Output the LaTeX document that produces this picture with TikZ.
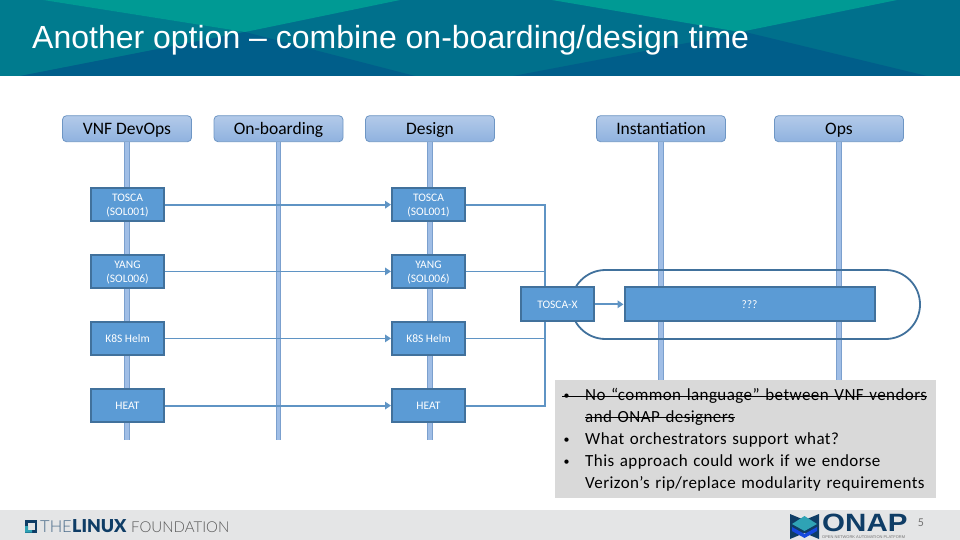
\documentclass[tikz,border=0pt]{standalone}
\usepackage{fontspec}
\usepackage{xcolor}
\usepackage{tikz}
\usetikzlibrary{arrows.meta,positioning,shapes.misc,calc}
\setmainfont{Carlito}
\newfontfamily\titlefont{Liberation Sans}
\newfontfamily\logofont{Lato Light}
\newfontfamily\logobold{Lato Black}
\newfontfamily\notefont[LetterSpace=2.5]{Carlito}
\newsavebox\strikebox
\newcommand{\strikeline}[1]{\sbox\strikebox{#1}\rlap{\usebox\strikebox}\rule[0.26em]{\wd\strikebox}{1pt}}
\newcommand{\notebullet}{\makebox[23pt][l]{\hspace{1.5pt}\raisebox{1pt}{\fontsize{12}{12}\selectfont\textbullet}}}
\definecolor{bandbase}{HTML}{00708C}
\definecolor{bandedge}{HTML}{007B8E}
\definecolor{bandgreen}{HTML}{009A94}
\definecolor{banddark}{HTML}{005E8A}
\definecolor{footgray}{HTML}{E4E5E6}
\definecolor{notegray}{HTML}{D9D9D9}
\definecolor{headtop}{HTML}{B3CAE9}
\definecolor{headbot}{HTML}{8FB2DF}
\definecolor{headline}{HTML}{6E96C4}
\definecolor{lifefill}{HTML}{A0BEE6}
\definecolor{lifeline}{HTML}{7BA0CE}
\definecolor{cardfill}{HTML}{5B9BD5}
\definecolor{cardline}{HTML}{41719C}
\definecolor{flowblue}{HTML}{5F94C4}
\definecolor{onapnavy}{HTML}{0F3D66}
\definecolor{onapteal}{HTML}{2FA3B5}
\tikzset{
  headbox/.style={draw=headline,top color=headtop,bottom color=headbot,line width=0.8pt,
                  rounded corners=4pt,minimum width=129pt,minimum height=26pt,
                  inner sep=0pt,text height=14pt,text depth=3pt,
                  font=\fontsize{17.5}{19}\selectfont},
  lifebar/.style={draw=lifeline,line width=0.9pt,double=lifefill,double distance=3.8pt},
  stepcard/.style={draw=cardline,fill=cardfill,line width=2pt,text=white,align=center,
                   minimum width=73pt,minimum height=33pt,inner sep=0pt,text depth=0pt,
                   font=\fontsize{11.5}{14}\selectfont},
  flowline/.style={draw=flowblue,line width=1.8pt},
  flowarr/.style={flowline,-{Triangle[length=6pt,width=7.5pt]}},
  loopline/.style={draw=cardline,line width=1.8pt,rounded rectangle,
                   minimum width=349pt,minimum height=69pt,inner sep=0pt},
  logotext/.style={anchor=base west,inner sep=0pt}
}
\begin{document}
\begin{tikzpicture}[x=1pt,y=-1pt]
  \path[use as bounding box] (0,0) rectangle (960,540);

  % title band
  \fill[bandbase] (0,0) rectangle (960,76);
  \fill[bandedge] (0,0) -- (43,0) -- (245,32) -- (20,76) -- (0,76) -- cycle;
  \fill[bandgreen] (43,0) -- (400,0) -- (245,32) -- cycle;
  \fill[bandgreen] (552,0) -- (897,0) -- (740,32) -- cycle;
  \fill[banddark] (20,76) -- (245,32) -- (415,76) -- cycle;
  \fill[banddark] (513,76) -- (745,32) -- (927,76) -- cycle;
  \node[text=white,logotext,font=\titlefont\fontsize{32}{34}\selectfont]
    (title) at (32,49) {Another option – combine on-boarding/design time};

  % footer
  \fill[footgray] (0,510) rectangle (960,540);
  \fill[onapnavy] (25,520) rectangle (37,532.7);
  \fill[footgray] (28,523) rectangle (34.5,530);
  \fill[onapteal] (25,526) -- (28,526) -- (28,530) -- (32,530) -- (32,532.7) -- (25,532.7) -- cycle;
  \node[logotext,text=onapnavy!75!footgray,font=\logofont\fontsize{16.5}{18}\selectfont]
    (lfthe) at (40,532) {THE};
  \node[logotext,text=onapnavy,font=\logobold\fontsize{17.8}{18}\selectfont]
    (lflinux) at (72,532) {LINUX};
  \node[logotext,text=black!65,font=\logofont\fontsize{15}{18}\selectfont]
    (lffound) at (131,532) {FOUNDATION};
  \fill[onapnavy] (790,514) -- (804.5,520) -- (819,514) -- (819,539) -- (804.5,533) -- (790,539) -- cycle;
  \fill[onapteal] (804.5,516) -- (817,524) -- (804.5,531) -- (792,524) -- cycle;
  \fill[blue!55!onapteal] (792,527) -- (804.5,534) -- (817,527) -- (817,531) -- (804.5,538) -- (792,531) -- cycle;
  \node[logotext,text=onapnavy,xscale=1.18,transform shape,font=\titlefont\bfseries\fontsize{25}{26}\selectfont]
    (onaplogo) at (822,531.5) {ONAP};
  \node[logotext,text=black!55,font=\titlefont\fontsize{4}{5}\selectfont]
    (onapsub) at (822,538.6) {OPEN NETWORK AUTOMATION PLATFORM};
  \node[text=black!55,font=\fontsize{12}{14}\selectfont] (pagenum) at (921,522.5) {5};

  % phases
  \node[headbox] (devops) at (127,128.7) {VNF DevOps};
  \node[headbox] (onboard) at (278.5,128.7) {On-boarding};
  \node[headbox] (design) at (430,128.7) {Design};
  \node[headbox] (inst) at (661,128.7) {Instantiation};
  \node[headbox] (ops) at (839,128.7) {Ops};

  \coordinate (lifeend) at (0,439.5);
  \coordinate (noteend) at (0,381);
  \draw[lifebar] (devops.south) -- (devops.south |- lifeend);
  \draw[lifebar] (onboard.south) -- (onboard.south |- lifeend);
  \draw[lifebar] (design.south) -- (design.south |- lifeend);
  \draw[lifebar] (inst.south) -- (inst.south |- noteend);
  \draw[lifebar] (ops.south) -- (ops.south |- noteend);

  \node[loopline] (loop) at (745.5,304.5) {};

  % artefacts
  \node[stepcard] (toscaa) at (127.5,204.7) {TOSCA\\(SOL001)};
  \node[stepcard] (yanga) at (127.5,271.4) {YANG\\(SOL006)};
  \node[stepcard] (helma) at (127.5,338.4) {K8S Helm};
  \node[stepcard] (heata) at (127.5,405.6) {HEAT};
  \node[stepcard] (toscab) at (428.5,204.7) {TOSCA\\(SOL001)};
  \node[stepcard] (yangb) at (428.5,271.4) {YANG\\(SOL006)};
  \node[stepcard] (helmb) at (428.5,338.4) {K8S Helm};
  \node[stepcard] (heatb) at (428.5,405.6) {HEAT};
  \coordinate (bus) at (545,304);

  \foreach \from/\to in {toscaa/toscab,yanga/yangb,helma/helmb,heata/heatb}
    \draw[flowarr] (\from) -- (\to);
  \draw[flowline] (toscab.east) -- (toscab.east -| bus) -- (bus);
  \draw[flowline] (yangb.east) -- (yangb.east -| bus);
  \draw[flowline] (helmb.east) -- (helmb.east -| bus);
  \draw[flowline] (heatb.east) -- (heatb.east -| bus) -- (bus);

  \node[stepcard,minimum height=34pt] (toscax) at (557.5,304.3) {TOSCA-X};
  \node[stepcard,minimum width=250pt,minimum height=34pt] (unknown) at (749.5,304.3) {???};
  \draw[flowarr] (toscax) -- (unknown);

  % remarks
  \node[fill=notegray,anchor=north west,minimum width=381pt,minimum height=118pt,inner sep=0pt]
    (notes) at (555,380) {};
  \node[anchor=north west,inner sep=0pt,align=left,text width=372pt,
        font=\notefont\fontsize{17}{21.8}\selectfont] (notetext) at (562,388.5)
    {\strikeline{\notebullet No “common language” between VNF vendors}\\
     \hspace*{23pt}\strikeline{and ONAP designers}\\
     \notebullet What orchestrators support what?\\
     \notebullet This approach could work if we endorse\\
     \hspace*{23pt}Verizon’s rip/replace modularity requirements};
\end{tikzpicture}
\end{document}
